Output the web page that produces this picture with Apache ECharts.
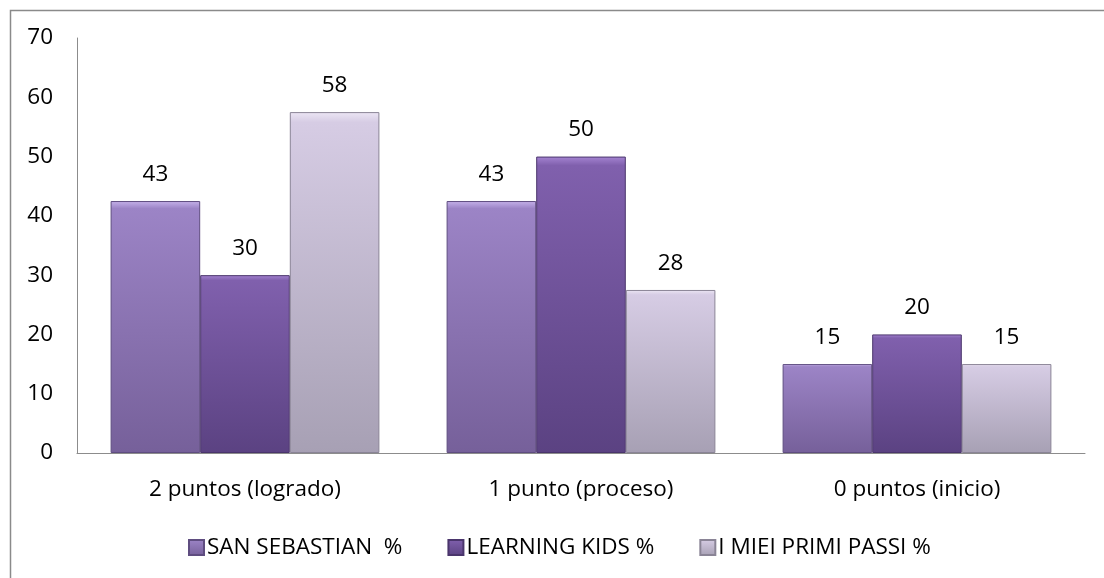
<!DOCTYPE html>
<html>
<head>
<meta charset="utf-8">
<script src="https://cdn.jsdelivr.net/npm/echarts@6/dist/echarts.min.js"></script>
<style>
html,body{margin:0;padding:0;background:#fff;}
#c{width:1104px;height:578px;}
</style>
</head>
<body>
<div id="c"></div>
<script>
const categories = ['2 puntos (logrado)', '1 punto (proceso)', '0 puntos (inicio)'];
const seriesNames = ['SAN SEBASTIAN  %', 'LEARNING KIDS %', 'I MIEI PRIMI PASSI %'];
const sanSebastian = [42.5, 42.5, 15];
const learningKids = [30, 50, 20];
const miPrimiPassi = [57.5, 27.5, 15];
const yTicks = [0, 10, 20, 30, 40, 50, 60, 70];

const palettes = [
  {hi:'#c6b2ea', top:'#9c84c6', bot:'#76609a', border:'#5f4d80'},
  {hi:'#a584d2', top:'#8060ad', bot:'#5b4282', border:'#4a356c'},
  {hi:'#ece6f4', top:'#d6cce4', bot:'#a7a0b4', border:'#8a8496'}
];
function grad(p){
  return new echarts.graphic.LinearGradient(0,0,0,1,[
    {offset:0, color:p.hi},
    {offset:0.03, color:p.top},
    {offset:1, color:p.bot}
  ]);
}
const datasets = [sanSebastian, learningKids, miPrimiPassi];
const font = 'Open Sans';
const fs = 22.5;

const chart = echarts.init(document.getElementById('c'));
chart.setOption({
  animation:false,
  backgroundColor:'#fff',
  graphic:[{
    type:'rect', left:8, top:8, z:-1,
    shape:{width:1200, height:700},
    style:{fill:'none', stroke:'#8a8a8a', lineWidth:1.5}
  }],
  grid:{left:77, right:19, top:38, bottom:125, containLabel:false},
  legend:{
    top:531, left:183,
    itemWidth:15, itemHeight:15, itemGap:45,
    icon:'rect',
    textStyle:{fontFamily:font, fontSize:fs, color:'#000', padding:[0,0,0,-2]},
    data:seriesNames
  },
  xAxis:{
    type:'category', data:categories,
    axisLine:{lineStyle:{color:'#8c8c8c', width:1}},
    axisTick:{show:false},
    axisLabel:{fontFamily:font, fontSize:fs, color:'#000', margin:25}
  },
  yAxis:{
    type:'value', min:0, max:70, interval:10,
    axisLine:{show:true, lineStyle:{color:'#8c8c8c', width:1}},
    axisTick:{show:false},
    splitLine:{show:false},
    axisLabel:{fontFamily:font, fontSize:fs, color:'#000', margin:24,
      formatter:v=>yTicks.includes(v)?String(v):''}
  },
  series: seriesNames.map((n,i)=>({
    name:n, type:'bar', barGap:'0%', barCategoryGap:'20%',
    data:datasets[i],
    itemStyle:{color:grad(palettes[i]), borderColor:palettes[i].border, borderWidth:1},
    label:{show:true, position:'top', distance:15, fontFamily:font, fontSize:fs, color:'#000',
      formatter:p=>String(Math.round(p.value))}
  }))
});
</script>
</body>
</html>
